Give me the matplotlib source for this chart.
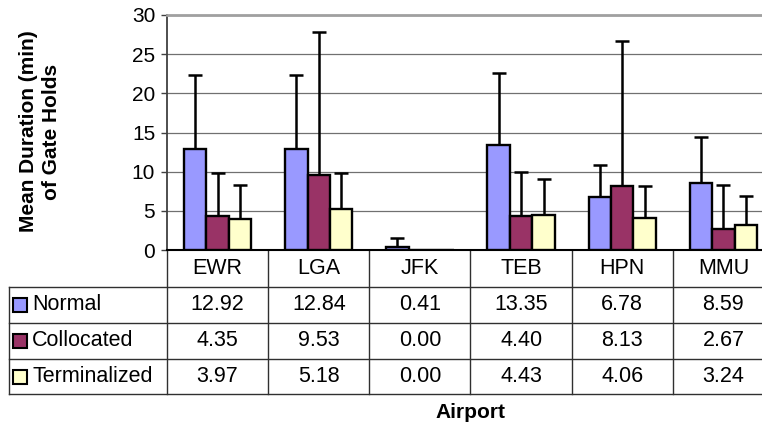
import numpy as np
import matplotlib
matplotlib.use('Agg')
import matplotlib.pyplot as plt
from matplotlib.patches import Rectangle

plt.rcParams['font.family'] = ['Liberation Sans', 'DejaVu Sans']

airports = ['EWR', 'LGA', 'JFK', 'TEB', 'HPN', 'MMU']
series = ['Normal', 'Collocated', 'Terminalized']
colors = ['#9999FF', '#993366', '#FFFFCC']

normal = [12.92, 12.84, 0.41, 13.35, 6.78, 8.59]
collocated = [4.35, 9.53, 0.00, 4.40, 8.13, 2.67]
terminalized = [3.97, 5.18, 0.00, 4.43, 4.06, 3.24]

# upper error bar lengths
normal_err = [9.4, 9.5, 1.1, 9.2, 4.1, 5.8]
collocated_err = [5.5, 18.3, 0.0, 5.6, 18.6, 5.6]
terminalized_err = [4.3, 4.6, 0.0, 4.6, 4.1, 3.7]

values = [normal, collocated, terminalized]
errors = [normal_err, collocated_err, terminalized_err]

W, H = 762, 425
fig = plt.figure(figsize=(W / 100, H / 100), dpi=100)
# plot area runs past the right edge (the original is cropped)
x0, x1, ytop, ybot = 167, 774, 15, 250
ax = fig.add_axes([x0 / W, 1 - ybot / H, (x1 - x0) / W, (ybot - ytop) / H])

x = np.arange(len(airports))
bw = 1 / 4.5
for i, (vals, errs) in enumerate(zip(values, errors)):
    pos = x + (i - 1) * bw
    ax.bar(pos, vals, bw, color=colors[i], edgecolor='black', linewidth=1.7, zorder=3)
    vals = np.array(vals)
    errs = np.array(errs)
    m = errs > 0
    ax.errorbar(pos[m], vals[m], yerr=[np.zeros(m.sum()), errs[m]], fmt='none',
                ecolor='black', elinewidth=1.8, capsize=5, capthick=1.8, zorder=2)

ax.set_xlim(-0.5, len(airports) - 0.5)
ax.set_ylim(0, 30)
ax.set_yticks(np.arange(0, 31, 5))
ax.set_xticks([])
ax.yaxis.grid(True, color='#707070', linewidth=0.9, zorder=0)
ax.set_axisbelow(True)
ax.tick_params(axis='y', labelsize=15, length=4.5, width=1, color='#404040', pad=4)
ax.spines['right'].set_visible(False)
ax.spines['top'].set_color('#A0A0A0')
ax.spines['top'].set_linewidth(2)
ax.spines['left'].set_color('#404040')
ax.spines['left'].set_linewidth(1.3)
ax.spines['bottom'].set_color('black')
ax.spines['bottom'].set_linewidth(1.5)

# data table below the axis
tr = ax.get_xaxis_transform()
ah = ybot - ytop
def fy(py):
    return (ybot - py) / ah

row_y = [fy(250), fy(287), fy(323), fy(359), fy(394)]
colw = (x1 - x0) / len(airports)
leg_x = -0.5 + (9 - x0) / colw
lc = '#303030'
for yy in row_y[1:]:
    ax.plot([leg_x, len(airports) - 0.5], [yy, yy], color=lc, lw=1, transform=tr, clip_on=False)
for b in np.arange(-0.5, len(airports), 1.0):
    ax.plot([b, b], [row_y[0], row_y[-1]], color=lc, lw=1, transform=tr, clip_on=False)
ax.plot([leg_x, leg_x], [row_y[1], row_y[-1]], color=lc, lw=1, transform=tr, clip_on=False)

tsize = 15.5
for j, name in enumerate(airports):
    ax.text(j, (row_y[0] + row_y[1]) / 2, name, ha='center', va='center',
            fontsize=tsize, transform=tr)
sq_w = 14 / colw
sq_h = 14 / ah
for i, name in enumerate(series):
    yc = (row_y[i + 1] + row_y[i + 2]) / 2
    ax.add_patch(Rectangle((leg_x + 4 / colw, yc - sq_h / 2), sq_w, sq_h, transform=tr,
                           facecolor=colors[i], edgecolor='black', lw=1.5, clip_on=False))
    ax.text(leg_x + 23 / colw, yc, name, ha='left', va='center',
            fontsize=tsize, transform=tr)
    for j, v in enumerate(values[i]):
        ax.text(j, yc, '%.2f' % v, ha='center', va='center', fontsize=tsize, transform=tr)

ax.text(2.5, fy(413), 'Airport', ha='center', va='center', fontsize=15,
        fontweight='bold', transform=tr)
fig.text(40 / W, 1 - 131.5 / H, 'Mean Duration (min)\nof Gate Holds', rotation=90,
         ha='center', va='center', multialignment='center', fontsize=15,
         fontweight='bold', linespacing=1.3)

fig.savefig('out.png', dpi=100)
